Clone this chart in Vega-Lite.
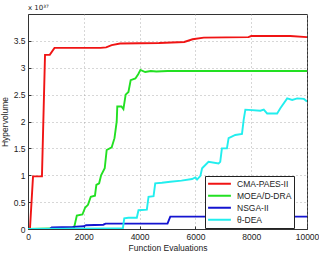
{
  "$schema": "https://vega.github.io/schema/vega-lite/v6.json",
  "autosize": "none",
  "padding": {"left": 28, "top": 14, "right": 12, "bottom": 24},
  "width": 279,
  "height": 215,
  "background": "white",
  "title": {"text": "x 10³⁷", "anchor": "start", "frame": "group", "fontSize": 7, "fontWeight": "normal", "font": "DejaVu Sans", "color": "#222", "offset": 3},
  "config": {
    "view": {"stroke": "#333", "strokeWidth": 1},
    "axis": {"labelFont": "Liberation Sans", "titleFont": "Liberation Sans", "labelFontSize": 8.5, "titleFontSize": 8.5, "titleFontWeight": "normal", "labelColor": "#222", "titleColor": "#222", "domainColor": "#333", "tickColor": "#333", "gridColor": "#999", "gridDash": [1, 3], "gridOpacity": 1, "gridWidth": 0.8}
  },
  "data": {"values": [
    {"series": "CMA-PAES-II", "x": 0, "y": 0},
    {"series": "CMA-PAES-II", "x": 70, "y": 0},
    {"series": "CMA-PAES-II", "x": 180, "y": 0.98},
    {"series": "CMA-PAES-II", "x": 500, "y": 0.98},
    {"series": "CMA-PAES-II", "x": 610, "y": 3.24},
    {"series": "CMA-PAES-II", "x": 780, "y": 3.24},
    {"series": "CMA-PAES-II", "x": 950, "y": 3.37},
    {"series": "CMA-PAES-II", "x": 2600, "y": 3.37},
    {"series": "CMA-PAES-II", "x": 2800, "y": 3.38},
    {"series": "CMA-PAES-II", "x": 3000, "y": 3.42},
    {"series": "CMA-PAES-II", "x": 3300, "y": 3.45},
    {"series": "CMA-PAES-II", "x": 4700, "y": 3.46},
    {"series": "CMA-PAES-II", "x": 5600, "y": 3.48},
    {"series": "CMA-PAES-II", "x": 5900, "y": 3.53},
    {"series": "CMA-PAES-II", "x": 6300, "y": 3.56},
    {"series": "CMA-PAES-II", "x": 7900, "y": 3.57},
    {"series": "CMA-PAES-II", "x": 8000, "y": 3.59},
    {"series": "CMA-PAES-II", "x": 9400, "y": 3.59},
    {"series": "CMA-PAES-II", "x": 10000, "y": 3.57},
    {"series": "MOEA/D-DRA", "x": 0, "y": 0},
    {"series": "MOEA/D-DRA", "x": 1650, "y": 0.02},
    {"series": "MOEA/D-DRA", "x": 1750, "y": 0.25},
    {"series": "MOEA/D-DRA", "x": 1950, "y": 0.27},
    {"series": "MOEA/D-DRA", "x": 2050, "y": 0.4},
    {"series": "MOEA/D-DRA", "x": 2150, "y": 0.45},
    {"series": "MOEA/D-DRA", "x": 2250, "y": 0.6},
    {"series": "MOEA/D-DRA", "x": 2400, "y": 0.62},
    {"series": "MOEA/D-DRA", "x": 2450, "y": 0.82},
    {"series": "MOEA/D-DRA", "x": 2550, "y": 0.85},
    {"series": "MOEA/D-DRA", "x": 2620, "y": 1.0},
    {"series": "MOEA/D-DRA", "x": 2750, "y": 1.13},
    {"series": "MOEA/D-DRA", "x": 2820, "y": 1.47},
    {"series": "MOEA/D-DRA", "x": 3000, "y": 1.52},
    {"series": "MOEA/D-DRA", "x": 3100, "y": 1.69},
    {"series": "MOEA/D-DRA", "x": 3180, "y": 2.0},
    {"series": "MOEA/D-DRA", "x": 3200, "y": 2.28},
    {"series": "MOEA/D-DRA", "x": 3350, "y": 2.28},
    {"series": "MOEA/D-DRA", "x": 3420, "y": 2.23},
    {"series": "MOEA/D-DRA", "x": 3500, "y": 2.5},
    {"series": "MOEA/D-DRA", "x": 3600, "y": 2.55},
    {"series": "MOEA/D-DRA", "x": 3680, "y": 2.77},
    {"series": "MOEA/D-DRA", "x": 3850, "y": 2.8},
    {"series": "MOEA/D-DRA", "x": 3950, "y": 2.88},
    {"series": "MOEA/D-DRA", "x": 4030, "y": 2.96},
    {"series": "MOEA/D-DRA", "x": 4200, "y": 2.92},
    {"series": "MOEA/D-DRA", "x": 4400, "y": 2.94},
    {"series": "MOEA/D-DRA", "x": 4600, "y": 2.93},
    {"series": "MOEA/D-DRA", "x": 5000, "y": 2.94},
    {"series": "MOEA/D-DRA", "x": 10000, "y": 2.94},
    {"series": "NSGA-II", "x": 0, "y": 0},
    {"series": "NSGA-II", "x": 780, "y": 0},
    {"series": "NSGA-II", "x": 850, "y": 0.03},
    {"series": "NSGA-II", "x": 1600, "y": 0.04},
    {"series": "NSGA-II", "x": 2000, "y": 0.05},
    {"series": "NSGA-II", "x": 2080, "y": 0.07},
    {"series": "NSGA-II", "x": 2700, "y": 0.08},
    {"series": "NSGA-II", "x": 2780, "y": 0.1},
    {"series": "NSGA-II", "x": 5000, "y": 0.1},
    {"series": "NSGA-II", "x": 5100, "y": 0.23},
    {"series": "NSGA-II", "x": 10000, "y": 0.23},
    {"series": "θ-DEA", "x": 0, "y": 0},
    {"series": "θ-DEA", "x": 3000, "y": 0.01},
    {"series": "θ-DEA", "x": 3400, "y": 0.01},
    {"series": "θ-DEA", "x": 3450, "y": 0.2},
    {"series": "θ-DEA", "x": 3600, "y": 0.21},
    {"series": "θ-DEA", "x": 3900, "y": 0.21},
    {"series": "θ-DEA", "x": 3960, "y": 0.35},
    {"series": "θ-DEA", "x": 4260, "y": 0.36},
    {"series": "θ-DEA", "x": 4320, "y": 0.6},
    {"series": "θ-DEA", "x": 4500, "y": 0.61},
    {"series": "θ-DEA", "x": 4560, "y": 0.85},
    {"series": "θ-DEA", "x": 4800, "y": 0.86},
    {"series": "θ-DEA", "x": 5100, "y": 0.88},
    {"series": "θ-DEA", "x": 5500, "y": 0.9},
    {"series": "θ-DEA", "x": 5880, "y": 0.93},
    {"series": "θ-DEA", "x": 6000, "y": 0.96},
    {"series": "θ-DEA", "x": 6060, "y": 0.92},
    {"series": "θ-DEA", "x": 6180, "y": 0.99},
    {"series": "θ-DEA", "x": 6240, "y": 1.13},
    {"series": "θ-DEA", "x": 6470, "y": 1.25},
    {"series": "θ-DEA", "x": 6830, "y": 1.22},
    {"series": "θ-DEA", "x": 6890, "y": 1.25},
    {"series": "θ-DEA", "x": 6950, "y": 1.5},
    {"series": "θ-DEA", "x": 7130, "y": 1.5},
    {"series": "θ-DEA", "x": 7190, "y": 1.69},
    {"series": "θ-DEA", "x": 7430, "y": 1.75},
    {"series": "θ-DEA", "x": 7670, "y": 1.77},
    {"series": "θ-DEA", "x": 7730, "y": 2.03},
    {"series": "θ-DEA", "x": 7790, "y": 2.22},
    {"series": "θ-DEA", "x": 8330, "y": 2.2},
    {"series": "θ-DEA", "x": 8450, "y": 2.22},
    {"series": "θ-DEA", "x": 8570, "y": 2.15},
    {"series": "θ-DEA", "x": 8930, "y": 2.15},
    {"series": "θ-DEA", "x": 9050, "y": 2.25},
    {"series": "θ-DEA", "x": 9290, "y": 2.43},
    {"series": "θ-DEA", "x": 9470, "y": 2.4},
    {"series": "θ-DEA", "x": 9650, "y": 2.43},
    {"series": "θ-DEA", "x": 9890, "y": 2.42},
    {"series": "θ-DEA", "x": 10000, "y": 2.37}
  ]},
  "layer": [
    {
      "mark": {"type": "line", "strokeWidth": 1.9, "clip": true},
      "encoding": {
        "x": {"field": "x", "type": "quantitative", "scale": {"domain": [0, 10000], "nice": false, "zero": false},
              "axis": {"title": "Function Evaluations", "values": [0, 2000, 4000, 6000, 8000, 10000], "format": "d", "tickSize": -3, "labelPadding": 6, "titlePadding": 3, "grid": true, "labelFlush": false}},
        "y": {"field": "y", "type": "quantitative", "scale": {"domain": [0, 4], "nice": false},
              "axis": {"title": "Hypervolume", "values": [0, 0.5, 1, 1.5, 2, 2.5, 3, 3.5], "format": "~g", "tickSize": -3, "labelPadding": 6, "titlePadding": 4, "grid": true}},
        "color": {"field": "series", "type": "nominal",
                  "scale": {"domain": ["CMA-PAES-II", "MOEA/D-DRA", "NSGA-II", "θ-DEA"], "range": ["#f01414", "#22e022", "#1414d0", "#22eeee"]},
                  "legend": {"title": null, "orient": "none", "legendX": 177, "legendY": 162, "symbolType": "stroke", "symbolSize": 520, "symbolStrokeWidth": 2, "clipHeight": 11.5, "labelFont": "Liberation Sans", "labelFontSize": 8.5, "labelColor": "#222", "strokeColor": "#222", "fillColor": "white", "padding": 2, "rowPadding": 0, "cornerRadius": 0, "labelOffset": 5}}
      }
    }
  ]
}
